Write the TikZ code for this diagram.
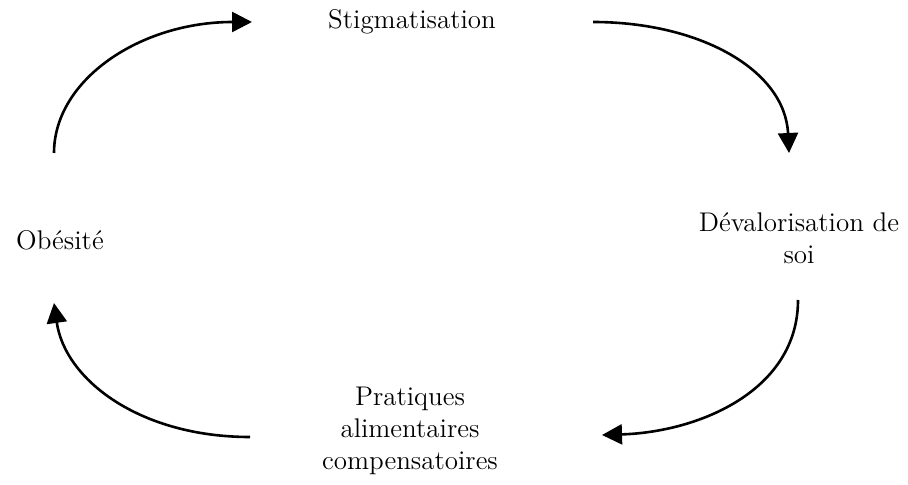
\documentclass[tikz,border=0pt]{standalone}
\usepackage{tikz}
\usetikzlibrary{arrows.meta}
\usepackage{amsmath}

\begin{document}
\begin{tikzpicture}[x=0.5pt,y=-0.5pt,line width=1.3pt]
    \tikzstyle{every node}+=[inner sep=0pt,align=center,font=\fontsize{13.5}{16}\selectfont]
    \tikzstyle{cycle arrow}=[black,-{Triangle[length=10pt,width=10pt]}]
    \useasboundingbox (0,0) rectangle (908,485);
    % the four stages
    \draw (60,240) node (obesite) {Ob\'esit\'e};
    \draw (412,22) node (stigma) {Stigmatisation};
    \draw (799,238) node (devalo) {D\'evalorisation de\\soi};
    \draw (410,431) node (pratiques) {Pratiques\\alimentaires\\compensatoires};
    % ends of the arrows
    \coordinate (a1) at (54,153);
    \coordinate (b1) at (252,22);
    \coordinate (a2) at (593,22);
    \coordinate (b2) at (789,153);
    \coordinate (a3) at (798,300);
    \coordinate (b3) at (602,435);
    \coordinate (a4) at (250,437);
    \coordinate (b4) at (54,303);
    \draw [cycle arrow] (a1) .. controls (54,80) and (140,22) .. (b1);
    \draw [cycle arrow] (a2) .. controls (700,22) and (785,70) .. (b2);
    \draw [cycle arrow] (a3) .. controls (798,390) and (700,432) .. (b3);
    \draw [cycle arrow] (a4) .. controls (140,437) and (65,380) .. (b4);
\end{tikzpicture}
\end{document}
